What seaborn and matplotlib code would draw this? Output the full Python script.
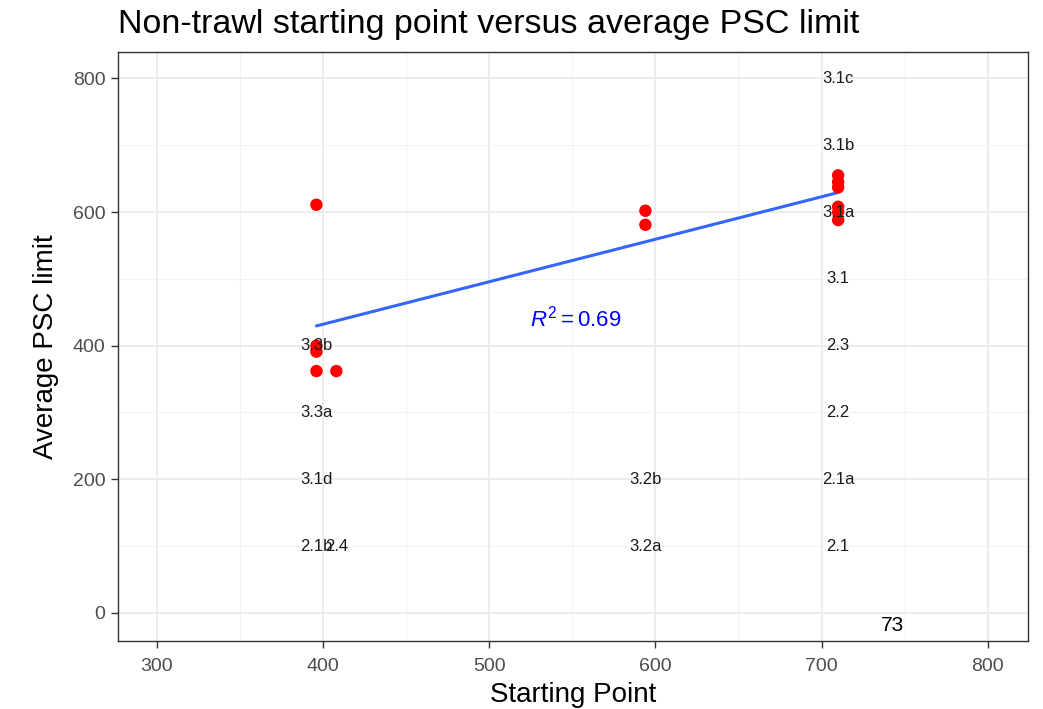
import pandas as pd
import matplotlib.pyplot as plt
import seaborn as sns
from matplotlib.ticker import MultipleLocator

# Starting point vs average PSC limit
start_pt = [396, 396, 396, 396, 408, 594, 594, 710, 710, 710, 710, 710, 710]
avg_psc = [611, 400, 391, 362, 362, 602, 581, 655, 645, 637, 608, 600, 588]

# Alternative labels placed on the chart
alt_names = ["3.1c", "3.1b", "3.1a", "3.1", "2.3", "2.2", "2.1a", "2.1",
             "3.2b", "3.2a", "3.3b", "3.3a", "3.1d", "2.1b", "2.4"]
alt_x = [710, 710, 710, 710, 710, 710, 710, 710,
         594, 594, 396, 396, 396, 396, 408]
alt_y = [800, 700, 600, 500, 400, 300, 200, 100,
         200, 100, 400, 300, 200, 100, 100]

r2_text = "0.69"

df = pd.DataFrame({"start": start_pt, "psc": avg_psc})
labels = pd.DataFrame({"name": alt_names, "x": alt_x, "y": alt_y})

sns.set_theme(style="white")
plt.rcParams["font.family"] = ["Liberation Sans", "DejaVu Sans"]
plt.rcParams["mathtext.fontset"] = "custom"
plt.rcParams["mathtext.rm"] = "Liberation Sans"
plt.rcParams["mathtext.it"] = "Liberation Sans:italic"

fig = plt.figure(figsize=(10.43, 7.09), dpi=100)
ax = fig.add_axes([0.113, 0.096, 0.873, 0.831])

sns.regplot(data=df, x="start", y="psc", ax=ax, scatter=False, ci=None,
            color="#3366FF", line_kws={"linewidth": 2.2, "zorder": 3})
sns.scatterplot(data=df, x="start", y="psc", ax=ax, color="#FF0000",
                s=80, edgecolor="none", zorder=4)

for _, row in labels.iterrows():
    ax.text(row["x"], row["y"], row["name"], ha="center", va="center",
            fontsize=12, color="#1a1a1a", zorder=5)

ax.text(552, 441, r"$R^2 = \mathrm{" + r2_text + "}$", color="#0000FF",
        fontsize=16, ha="center", va="center", zorder=5)

ax.set_xlim(276.5, 824.5)
ax.set_ylim(-42, 840)
ax.xaxis.set_major_locator(MultipleLocator(100))
ax.xaxis.set_minor_locator(MultipleLocator(50))
ax.yaxis.set_major_locator(MultipleLocator(200))
ax.yaxis.set_minor_locator(MultipleLocator(100))
ax.grid(which="major", color="#EBEBEB", linewidth=1.3, zorder=0)
ax.grid(which="minor", color="#F2F2F2", linewidth=0.8, zorder=0)
ax.set_axisbelow(True)

for sp in ax.spines.values():
    sp.set_color("#333333")
    sp.set_linewidth(1.0)
ax.tick_params(which="major", length=5, width=1, color="#333333", pad=4,
               labelsize=14, labelcolor="#4D4D4D", bottom=True, left=True)
ax.tick_params(axis="x", which="major", pad=7)
ax.tick_params(which="minor", length=0)

ax.set_xlabel("Starting Point", fontsize=20, color="black", labelpad=5)
ax.set_ylabel("Average PSC limit", fontsize=20, color="black", labelpad=10)
fig.text(0.113, 0.966, "Non-trawl starting point versus average PSC limit",
         fontsize=24.5, color="black", ha="left", va="center")

fig.text(0.856, 0.118, "73", fontsize=15, color="black", ha="center", va="center")

fig.savefig("out.png", dpi=100)
